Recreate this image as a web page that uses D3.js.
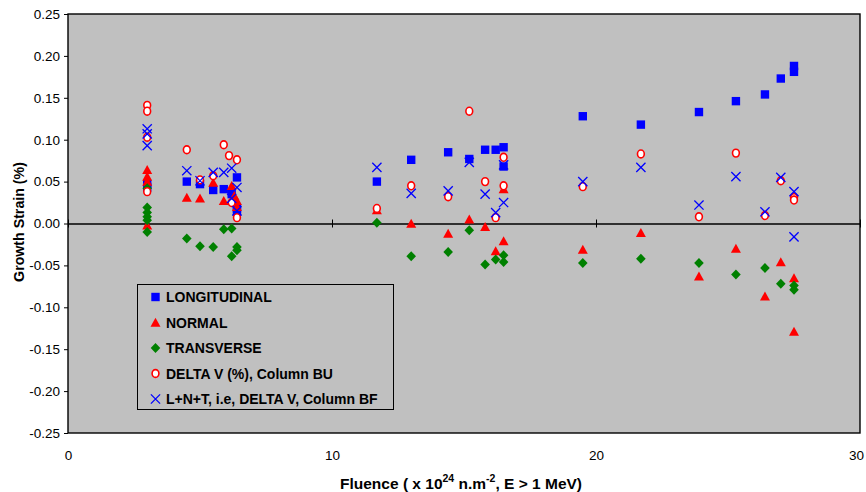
<!DOCTYPE html>
<html>
<head>
<meta charset="utf-8">
<title>Growth Strain vs Fluence</title>
<style>
body { margin: 0; background: #fff; }
svg { display: block; font-family: "Liberation Sans", Arial, sans-serif; }
.axis text { font-size: 13.5px; fill: #000; }
.axis path, .axis line { stroke: #000; }
.title { font-weight: bold; fill: #000; }
.legend text { font-size: 14px; font-weight: bold; fill: #000; }
</style>
</head>
<body>
<script src="https://cdn.jsdelivr.net/npm/d3@7"></script>
<script>
// data: [fluence, growth strain %]
var longitudinal = [[3.0,0.047],[3.0,0.043],[4.5,0.050],[5.0,0.047],[5.5,0.040],[5.9,0.041],[6.2,0.035],[6.4,0.055],[6.4,0.018],[6.4,0.014],
  [11.7,0.050],[13.0,0.076],[14.4,0.085],[15.2,0.077],[15.8,0.088],[16.2,0.088],[16.5,0.091],[16.5,0.068],
  [19.5,0.128],[21.7,0.118],[23.9,0.133],[25.3,0.146],[26.4,0.154],[27.0,0.173],[27.5,0.188],[27.5,0.181]];
var normal = [[3.0,0.064],[3.0,0.056],[3.0,0.050],[3.0,-0.002],[4.5,0.031],[5.0,0.030],[5.5,0.049],[5.9,0.027],[6.2,0.045],[6.3,0.033],[6.4,0.027],[6.4,0.020],
  [11.7,0.016],[13.0,0.000],[14.4,-0.012],[15.2,0.005],[15.8,-0.004],[16.2,-0.033],[16.5,0.041],[16.5,-0.021],
  [19.5,-0.031],[21.7,-0.011],[23.9,-0.063],[25.3,-0.030],[26.4,-0.087],[27.0,-0.046],[27.5,-0.065],[27.5,-0.129]];
var transverse = [[3.0,0.042],[3.0,0.019],[3.0,0.013],[3.0,0.008],[3.0,0.004],[3.0,-0.010],[4.5,-0.018],[5.0,-0.027],[5.5,-0.028],[5.9,-0.007],[6.2,-0.006],[6.2,-0.039],[6.4,-0.028],[6.4,-0.032],
  [11.7,0.001],[13.0,-0.039],[14.4,-0.034],[15.2,-0.008],[15.8,-0.049],[16.2,-0.043],[16.5,-0.038],[16.5,-0.046],
  [19.5,-0.047],[21.7,-0.042],[23.9,-0.047],[25.3,-0.061],[26.4,-0.053],[27.0,-0.072],[27.5,-0.074],[27.5,-0.079]];
var deltaV = [[3.0,0.141],[3.0,0.134],[3.0,0.103],[3.0,0.038],[4.5,0.088],[5.0,0.052],[5.5,0.057],[5.9,0.094],[6.1,0.081],[6.2,0.025],[6.4,0.076],[6.4,0.007],
  [11.7,0.018],[13.0,0.045],[14.4,0.032],[15.2,0.134],[15.8,0.050],[16.2,0.007],[16.5,0.079],[16.5,0.045],
  [19.5,0.044],[21.7,0.083],[23.9,0.008],[25.3,0.084],[26.4,0.0095],[27.0,0.051],[27.5,0.031],[27.5,0.028]];
var lnt = [[3.0,0.113],[3.0,0.107],[3.0,0.093],[4.5,0.063],[5.0,0.051],[5.5,0.061],[5.9,0.061],[6.2,0.066],[6.2,0.030],[6.4,0.043],[6.4,0.015],
  [11.7,0.067],[13.0,0.036],[14.4,0.039],[15.2,0.073],[15.8,0.035],[16.2,0.013],[16.5,0.070],[16.5,0.025],
  [19.5,0.050],[21.7,0.067],[23.9,0.022],[25.3,0.056],[26.4,0.014],[27.0,0.055],[27.5,0.038],[27.5,-0.016]];

var seriesNames = ["LONGITUDINAL", "NORMAL", "TRANSVERSE", "DELTA V (%), Column BU", "L+N+T, i.e, DELTA V, Column BF"];
var xTicks = [0, 10, 20, 30];
var yTicks = [-0.25, -0.20, -0.15, -0.10, -0.05, 0, 0.05, 0.10, 0.15, 0.20, 0.25];

var margin = { top: 14, right: 6, bottom: 59, left: 68 };
var width = 866 - margin.left - margin.right;
var height = 492 - margin.top - margin.bottom;

var svg = d3.select("body").append("svg")
    .attr("width", 866)
    .attr("height", 492);

var g = svg.append("g")
    .attr("transform", "translate(" + margin.left + "," + margin.top + ")");

var xscale = d3.scaleLinear().domain([0, 30]).range([0, width]);
var yscale = d3.scaleLinear().domain([-0.25, 0.25]).range([height, 0]);

g.append("rect")
  .attr("width", width)
  .attr("height", height)
  .attr("fill", "#c0c0c0");

// y axis
g.append("g")
  .attr("class", "axis")
  .call(d3.axisLeft(yscale).tickValues(yTicks).tickSize(4).tickPadding(4)
    .tickFormat(function(d) { return d.toFixed(2); }))
  .select(".domain").remove();

// x labels sit under the plot
var xLab = g.append("g")
  .attr("class", "axis")
  .attr("transform", "translate(0," + height + ")")
  .call(d3.axisBottom(xscale).tickValues(xTicks).tickSize(0).tickPadding(17));
xLab.select(".domain").remove();
xLab.selectAll(".tick text").filter(function(d) { return d == 30; }).attr("dx", "-4");

// the axis line itself crosses at zero
var zero = g.append("g")
  .attr("class", "axis")
  .attr("transform", "translate(0," + yscale(0) + ")")
  .call(d3.axisBottom(xscale).tickValues(xTicks).tickSize(4).tickSizeOuter(0).tickFormat(""));
zero.selectAll(".tick line").attr("y1", -4);
zero.select(".domain").attr("stroke-width", 1.4);

// marker drawers
function square(sel, col) {
  sel.append("rect").attr("x", -4.2).attr("y", -4.2).attr("width", 8.4).attr("height", 8.4).attr("fill", col);
}
function triangle(sel, col) {
  sel.append("path").attr("d", "M0,-4.8L5,4.2L-5,4.2Z").attr("fill", col);
}
function diamond(sel, col) {
  sel.append("path").attr("d", "M0,-5L4.8,0L0,5L-4.8,0Z").attr("fill", col);
}
function ring(sel, col) {
  sel.append("ellipse").attr("rx", 3.4).attr("ry", 3.9).attr("fill", "#fff").attr("stroke", col).attr("stroke-width", 1.6);
}
function cross(sel, col) {
  sel.append("path").attr("d", "M-4.6,-4.6L4.6,4.6M-4.6,4.6L4.6,-4.6").attr("stroke", col).attr("stroke-width", 1.3).attr("fill", "none");
}

var series = [
  { data: longitudinal, draw: square, color: "#0000ff" },
  { data: normal, draw: triangle, color: "#ff0000" },
  { data: transverse, draw: diamond, color: "#008000" },
  { data: deltaV, draw: ring, color: "#ff0000" },
  { data: lnt, draw: cross, color: "#0000ff" }
];

series.forEach(function(s) {
  var pts = g.append("g").selectAll("g")
    .data(s.data)
    .enter().append("g")
    .attr("transform", function(d) { return "translate(" + xscale(d[0]) + "," + yscale(d[1]) + ")"; });
  s.draw(pts, s.color);
});

// plot border
g.append("rect")
  .attr("width", width)
  .attr("height", height)
  .attr("fill", "none")
  .attr("stroke", "#000")
  .attr("stroke-width", 1.4);

// legend
var legend = svg.append("g").attr("class", "legend")
  .attr("transform", "translate(137.5,284.5)");
legend.append("rect")
  .attr("width", 256)
  .attr("height", 125)
  .attr("fill", "#c0c0c0")
  .attr("stroke", "#000")
  .attr("stroke-width", 1);

var item = legend.selectAll("g.item")
  .data(series)
  .enter().append("g")
  .attr("class", "item")
  .attr("transform", function(d, i) { return "translate(18," + (12.5 + i * 25.5) + ")"; });
item.each(function(d) { d.draw(d3.select(this), d.color); });
item.append("text")
  .attr("x", 10.5)
  .attr("y", 5)
  .text(function(d, i) { return seriesNames[i]; });

// axis titles
svg.append("text")
  .attr("class", "title")
  .attr("font-size", "14.2px")
  .attr("transform", "translate(24,222) rotate(-90)")
  .attr("text-anchor", "middle")
  .text("Growth Strain (%)");

var xt = svg.append("text")
  .attr("class", "title")
  .attr("font-size", "15.5px")
  .attr("x", 461)
  .attr("y", 489)
  .attr("text-anchor", "middle");
xt.append("tspan").text("Fluence ( x 10");
xt.append("tspan").attr("dy", -7).attr("font-size", "10.5px").text("24");
xt.append("tspan").attr("dy", 7).text(" n.m");
xt.append("tspan").attr("dy", -7).attr("font-size", "10.5px").text("-2");
xt.append("tspan").attr("dy", 7).text(", E > 1 MeV)");
</script>
</body>
</html>
